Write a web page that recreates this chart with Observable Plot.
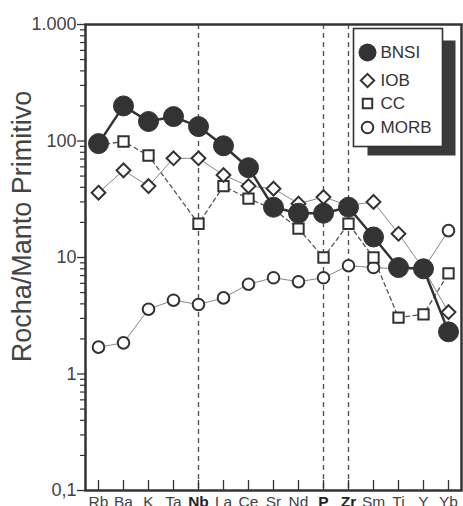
<!DOCTYPE html>
<html>
<head>
<meta charset="utf-8">
<script src="https://cdn.jsdelivr.net/npm/d3@7"></script>
<script src="https://cdn.jsdelivr.net/npm/@observablehq/plot@0.6"></script>
<style>
  html, body { margin: 0; padding: 0; background: #fff; }
  #chart { width: 463px; height: 506px; overflow: hidden; }
</style>
</head>
<body>
<div id="chart"></div>
<script>
const elements = ["Rb","Ba","K","Ta","Nb","La","Ce","Sr","Nd","P","Zr","Sm","Ti","Y","Yb"];
const boldElements = ["Nb","P","Zr"];
const bnsi = [95, 200, 147, 162, 133, 91, 59, 27, 24, 24, 27, 15, 8.2, 8.0, 2.3];
const iob  = [36, 56, 41, 71, 71, 51, 41, 39, 29, 33, 28, 30, 16, 8, 3.4];
const cc   = [92, 99, 75, null, 19.5, 41, 32, 26, 17.7, 10, 19.5, 10, 3.05, 3.25, 7.3];
const morb = [1.7, 1.85, 3.6, 4.3, 3.95, 4.5, 5.9, 6.7, 6.2, 6.7, 8.5, 8.2, 8.0, 8.0, 17];
const yMajor = [0.1, 1, 10, 100, 1000];
const yMajorLabels = ["0,1", "1", "10", "100", "1.000"];
const seriesNames = ["BNSI", "IOB", "CC", "MORB"];

const rows = (vals) => elements.map((e, i) => ({el: e, v: vals[i]})).filter(d => d.v != null);
const dBNSI = rows(bnsi), dIOB = rows(iob), dCC = rows(cc), dMORB = rows(morb);
const yMinor = [];
for (const p of [0.1, 1, 10, 100]) for (let k = 2; k <= 9; k++) yMinor.push(+(p * k).toPrecision(3));

const dark = "#333";
const font = "'Liberation Sans', Arial, sans-serif";
const legendDy = [28, 56, 79, 103];
const legendText = seriesNames.map((name, i) =>
  Plot.text([name], {text: d => d, frameAnchor: "top-left", dx: 295, dy: legendDy[i], textAnchor: "start", lineAnchor: "middle", fontSize: 17, fill: "#333"}));

const plot = Plot.plot({
  width: 463,
  height: 506,
  marginLeft: 85,
  marginRight: 2,
  marginTop: 24,
  marginBottom: 16,
  style: {fontFamily: font, background: "white", overflow: "visible"},
  x: {type: "point", domain: elements, padding: 0.5, label: null},
  y: {type: "log", domain: [0.1, 1000], label: null},
  marks: [
    Plot.ruleX(boldElements, {x: d => d, stroke: "#555", strokeWidth: 1.4, strokeDasharray: "5,4"}),
    Plot.ruleX(elements, {x: d => d, insetTop: 456, stroke: dark, strokeWidth: 1.3}),
    Plot.axisY({ticks: yMajor, tickSize: 8, tickPadding: 1, tickFormat: d => yMajorLabels[yMajor.indexOf(d)], fontSize: 18, fill: "#444", stroke: dark, strokeWidth: 1.3, label: null}),
    Plot.axisY({ticks: yMinor, tickSize: 5, tickFormat: () => "", stroke: dark, strokeWidth: 1.2, label: null}),
    Plot.axisX({ticks: elements.filter(e => !boldElements.includes(e)), tickSize: 0, tickPadding: 5, fontSize: 15.5, fill: "#444", label: null}),
    Plot.axisX({ticks: boldElements, tickSize: 0, tickPadding: 5, fontSize: 15.5, fontWeight: "bold", fill: "#222", label: null}),
    Plot.text(["Rocha/Manto Primitivo"], {text: d => d, frameAnchor: "left", dx: -63, dy: -31, rotate: -90, fontSize: 27, fill: "#444", textAnchor: "middle"}),
    Plot.line(dMORB, {x: "el", y: "v", stroke: "#888", strokeWidth: 1}),
    Plot.line(dCC, {x: "el", y: "v", stroke: "#555", strokeWidth: 1.3, strokeDasharray: "4,3.5"}),
    Plot.line(dIOB, {x: "el", y: "v", stroke: "#888", strokeWidth: 1}),
    Plot.line(dBNSI, {x: "el", y: "v", stroke: dark, strokeWidth: 2.5}),
    Plot.dot(dMORB, {x: "el", y: "v", r: 5.8, fill: "white", stroke: dark, strokeWidth: 2}),
    Plot.dot(dCC, {x: "el", y: "v", symbol: "square2", r: 6.6, fill: "white", stroke: dark, strokeWidth: 2}),
    Plot.dot(dIOB, {x: "el", y: "v", symbol: "diamond2", r: 6.2, fill: "white", stroke: dark, strokeWidth: 2}),
    Plot.dot(dBNSI, {x: "el", y: "v", r: 10, fill: dark, stroke: dark, strokeWidth: 1}),
    Plot.frame({stroke: dark, strokeWidth: 2.5}),
    Plot.frame({fill: "#3a3a3a", stroke: "none", insetLeft: 282, insetRight: 6, insetTop: 16, insetBottom: 335}),
    Plot.frame({fill: "white", stroke: dark, strokeWidth: 1.6, insetLeft: 268, insetRight: 19, insetTop: 4, insetBottom: 344}),
    Plot.dot([seriesNames[0]], {frameAnchor: "top-left", dx: 282, dy: legendDy[0], r: 9, fill: dark}),
    Plot.dot([seriesNames[1]], {frameAnchor: "top-left", dx: 282, dy: legendDy[1], symbol: "diamond2", r: 6, fill: "white", stroke: dark, strokeWidth: 2}),
    Plot.dot([seriesNames[2]], {frameAnchor: "top-left", dx: 282, dy: legendDy[2], symbol: "square2", r: 6, fill: "white", stroke: dark, strokeWidth: 2}),
    Plot.dot([seriesNames[3]], {frameAnchor: "top-left", dx: 282, dy: legendDy[3], r: 5.8, fill: "white", stroke: dark, strokeWidth: 2}),
    ...legendText
  ]
});
document.getElementById("chart").appendChild(plot);
</script>
</body>
</html>
